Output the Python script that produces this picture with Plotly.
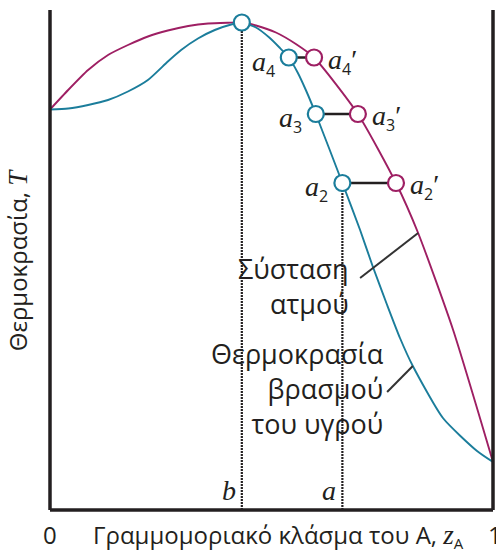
import plotly.graph_objects as go

# Boiling-point curve of the liquid: mole fraction of A vs temperature
liq_z = [0.0, 0.041, 0.086, 0.131, 0.176, 0.221, 0.266, 0.296, 0.334, 0.372,
         0.409, 0.433, 0.465, 0.495, 0.518, 0.539, 0.559, 0.578, 0.600, 0.660,
         0.700, 0.729, 0.761, 0.790, 0.819, 0.887, 0.964, 1.0]
liq_T = [80.1, 80.3, 81.0, 82.0, 83.7, 86.0, 89.7, 92.0, 94.3, 96.0,
         97.1, 97.5, 96.5, 94.5, 92.5, 90.5, 87.5, 83.9, 79.2, 65.4,
         56.0, 48.6, 41.0, 34.4, 28.8, 18.4, 11.8, 9.6]

# Vapour composition curve
vap_z = [0.0, 0.041, 0.086, 0.131, 0.176, 0.221, 0.266, 0.312, 0.357, 0.402,
         0.433, 0.465, 0.510, 0.555, 0.596, 0.695, 0.781, 0.831, 0.910, 1.0]
vap_T = [80.1, 84.0, 88.0, 91.0, 93.0, 94.7, 95.9, 96.8, 97.3, 97.45,
         97.5, 96.9, 95.5, 93.2, 90.5, 79.2, 65.4, 55.4, 36.0, 9.6]

# Tie lines a_n (liquid) -- a_n' (vapour)
tie_names = ["2", "3", "4"]
tie_T = [65.4, 79.2, 90.5]
tie_liq = [0.660, 0.600, 0.539]
tie_vap = [0.781, 0.695, 0.596]

# Azeotrope (maximum of both curves)
az_z = 0.433
az_T = 97.5

BLUE = "#1b7d9b"
PURPLE = "#9e1f63"
INK = "#231f20"

fig = go.Figure()

fig.add_trace(go.Scatter(x=vap_z, y=vap_T, mode="lines",
                         line=dict(color=PURPLE, width=1.9, shape="spline", smoothing=0.6),
                         hoverinfo="skip"))
fig.add_trace(go.Scatter(x=liq_z, y=liq_T, mode="lines",
                         line=dict(color=BLUE, width=1.9, shape="spline", smoothing=0.6),
                         hoverinfo="skip"))

# dotted drop lines to the composition axis: b (azeotrope) and a (point a2)
for z, T in [(az_z, az_T), (tie_liq[0], tie_T[0])]:
    fig.add_trace(go.Scatter(x=[z, z], y=[0, T], mode="lines",
                             line=dict(color=INK, width=2.2, dash="2px,1px"),
                             hoverinfo="skip"))

# horizontal tie lines
for zl, zv, T in zip(tie_liq, tie_vap, tie_T):
    fig.add_trace(go.Scatter(x=[zl, zv], y=[T, T], mode="lines",
                             line=dict(color=INK, width=2.5), hoverinfo="skip"))

marker_common = dict(size=16, color="white")
fig.add_trace(go.Scatter(x=tie_vap, y=tie_T, mode="markers",
                         marker=dict(**marker_common, line=dict(color=PURPLE, width=2.2)),
                         hoverinfo="skip"))
fig.add_trace(go.Scatter(x=tie_liq + [az_z], y=tie_T + [az_T], mode="markers",
                         marker=dict(**marker_common, line=dict(color=BLUE, width=2.2)),
                         hoverinfo="skip"))

SERIF = "Liberation Serif"
SANS = "Open Sans"


def sub(s):
    return ("<sub><span style='font-family:%s;font-style:normal;font-size:16px'>%s</span></sub>"
            % (SANS, s))


annotations = []
for name, zl, zv, T in zip(tie_names, tie_liq, tie_vap, tie_T):
    annotations.append(dict(x=zl, y=T, xref="x", yref="y", showarrow=False,
                            text="<i>a</i>" + sub(name), xanchor="right", yanchor="middle",
                            xshift=-12, yshift=-6,
                            font=dict(family=SERIF, size=28, color=INK)))
    annotations.append(dict(x=zv, y=T, xref="x", yref="y", showarrow=False,
                            text="<i>a</i>" + sub(name) + "′", xanchor="left", yanchor="middle",
                            xshift=12, yshift=-4,
                            font=dict(family=SERIF, size=28, color=INK)))

# composition labels at the foot of the dotted lines
for lbl, z in [("b", az_z), ("a", tie_liq[0])]:
    annotations.append(dict(x=z, y=0, xref="x", yref="y", showarrow=False,
                            text="<i>%s</i>" % lbl, xanchor="right", yanchor="bottom",
                            xshift=-4, yshift=2,
                            font=dict(family=SERIF, size=28, color=INK)))

# curve captions
annotations.append(dict(x=0.68, y=52.5, xref="x", yref="y", showarrow=False,
                        text="Σύσταση<br>ατμού", align="right", xanchor="right", yanchor="top",
                        font=dict(family=SANS, size=27, color=INK)))
annotations.append(dict(x=0.7585, y=35.4, xref="x", yref="y", showarrow=False,
                        text="Θερμοκρασία<br>βρασμού<br>του υγρού", align="right",
                        xanchor="right", yanchor="top",
                        font=dict(family=SANS, size=27, color=INK)))

# axis texts
annotations.append(dict(x=0, y=0, xref="paper", yref="paper", showarrow=False,
                        text="0", xanchor="center", yanchor="top", yshift=-6,
                        font=dict(family=SANS, size=24, color=INK)))
annotations.append(dict(x=1, y=0, xref="paper", yref="paper", showarrow=False,
                        text="1", xanchor="left", yanchor="top", yshift=-6, xshift=-7,
                        font=dict(family=SANS, size=24, color=INK)))
annotations.append(dict(x=0.093, y=0, xref="paper", yref="paper", showarrow=False,
                        text="Γραμμομοριακό κλάσμα του A, "
                             "<span style='font-family:%s;font-style:italic;font-size:27px'>z</span>"
                             "<sub><span style='font-size:15px'>A</span></sub>" % SERIF,
                        xanchor="left", yanchor="top", yshift=-6,
                        font=dict(family=SANS, size=24, color=INK)))
annotations.append(dict(x=-0.074, y=0.5, xref="paper", yref="paper", showarrow=False,
                        text="Θερμοκρασία, "
                             "<span style='font-family:%s;font-style:italic;font-size:27px'>T</span>" % SERIF,
                        textangle=-90, xanchor="center", yanchor="middle",
                        font=dict(family=SANS, size=24, color=INK)))

shapes = [
    # frame: left, bottom and right edges
    dict(type="line", xref="paper", yref="paper", x0=0, x1=0, y0=0, y1=1,
         line=dict(color=INK, width=3.5)),
    dict(type="line", xref="paper", yref="paper", x0=0, x1=1, y0=0, y1=0,
         line=dict(color=INK, width=3.5)),
    dict(type="line", xref="paper", yref="paper", x0=1, x1=1, y0=0, y1=1,
         line=dict(color=INK, width=3.5)),
    # caption leader lines onto the curves
    dict(type="line", xref="x", yref="y", x0=0.700, y0=46.4, x1=vap_z[17], y1=vap_T[17],
         line=dict(color="#333333", width=2)),
    dict(type="line", xref="x", yref="y", x0=0.761, y0=23.6, x1=liq_z[24], y1=liq_T[24],
         line=dict(color="#333333", width=2)),
]

fig.update_layout(
    width=496, height=553,
    margin=dict(l=50, r=3, t=10, b=43),
    paper_bgcolor="white", plot_bgcolor="white",
    showlegend=False,
    xaxis=dict(range=[0, 1], visible=False, fixedrange=True),
    yaxis=dict(range=[0, 100], visible=False, fixedrange=True),
    annotations=annotations,
    shapes=shapes,
)

fig.write_html("out.html")
